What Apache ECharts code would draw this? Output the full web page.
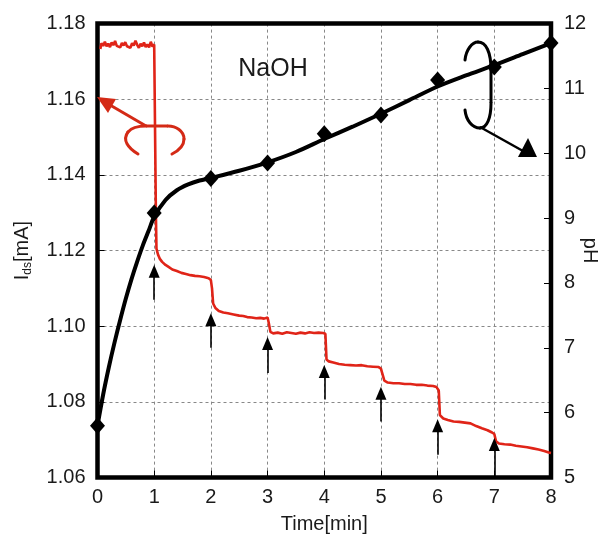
<!DOCTYPE html>
<html>
<head>
<meta charset="utf-8">
<script src="https://cdn.jsdelivr.net/npm/echarts@6/dist/echarts.min.js"></script>
<style>
html,body{margin:0;padding:0;background:#fff;}
#chart{width:608px;height:538px;}
</style>
</head>
<body>
<div id="chart"></div>
<script>
// ---- data ----
var idsTime = [0.05,0.07,0.10,0.13,0.16,0.19,0.22,0.25,0.28,0.31,0.34,0.37,0.40,0.43,0.46,0.49,0.52,0.55,0.58,0.61,0.64,0.67,0.70,0.73,0.76,0.79,0.82,0.85,0.88,0.91,0.94,0.97,1.00,1.02,
  1.03,1.04,1.07,1.10,1.14,1.20,1.26,1.32,1.40,1.48,1.56,1.64,1.72,1.80,1.88,1.96,2.00,
  2.02,2.04,2.08,2.14,2.22,2.30,2.40,2.50,2.57,2.64,2.72,2.80,2.87,2.94,3.00,
  3.02,3.05,3.10,3.18,3.26,3.34,3.42,3.50,3.58,3.66,3.74,3.82,3.90,3.98,4.02,
  4.04,4.08,4.16,4.26,4.36,4.46,4.56,4.66,4.76,4.86,4.96,5.00,
  5.03,5.06,5.12,5.22,5.32,5.42,5.52,5.62,5.72,5.82,5.92,5.98,
  6.02,6.04,6.10,6.18,6.28,6.38,6.48,6.58,6.68,6.78,6.88,6.96,7.00,
  7.03,7.08,7.18,7.28,7.38,7.48,7.58,7.68,7.78,7.88,7.96,8.00];
var idsValue = [1.1733,1.1748,1.1741,1.1752,1.1740,1.1747,1.1738,1.1750,1.1743,1.1754,1.1741,1.1746,1.1737,1.1749,1.1742,1.1751,1.1740,1.1745,1.1736,1.1748,1.1742,1.1755,1.1744,1.1736,1.1747,1.1740,1.1750,1.1738,1.1745,1.1737,1.1752,1.1739,1.1745,1.1740,
  1.1300,1.1205,1.1188,1.1178,1.1170,1.1162,1.1156,1.1150,1.1146,1.1141,1.1138,1.1135,1.1133,1.1132,1.1130,1.1127,1.1122,
  1.1100,1.1060,1.1048,1.1040,1.1036,1.1034,1.1031,1.1028,1.1027,1.1024,1.1023,1.1021,1.1022,1.1020,1.1023,
  1.1010,1.0985,1.0981,1.0983,1.0980,1.0984,1.0982,1.0980,1.0983,1.0981,1.0984,1.0982,1.0983,1.0982,1.0980,
  1.0912,1.0907,1.0904,1.0900,1.0898,1.0897,1.0896,1.0897,1.0894,1.0893,1.0892,1.0888,
  1.0872,1.0856,1.0851,1.0849,1.0849,1.0847,1.0847,1.0845,1.0845,1.0843,1.0842,1.0839,
  1.0830,1.0765,1.0756,1.0752,1.0748,1.0747,1.0745,1.0743,1.0736,1.0730,1.0725,1.0719,1.0715,
  1.0696,1.0690,1.0688,1.0687,1.0684,1.0682,1.0680,1.0677,1.0674,1.0670,1.0666,1.0665];

var phFitTime  = [0,0.1,0.2,0.3,0.4,0.5,0.6,0.7,0.8,0.9,1.0,1.2,1.4,1.6,1.8,2.0,2.5,3.0,3.5,4.0,4.5,5.0,5.5,6.0,6.5,7.0,7.5,8.0];
var phFitValue = [5.80,6.28,6.70,7.08,7.43,7.76,8.06,8.33,8.58,8.80,9.02,9.28,9.43,9.52,9.58,9.62,9.73,9.86,10.02,10.22,10.41,10.61,10.82,11.03,11.20,11.36,11.53,11.70];

var phTime  = [0,1,2,3,4,5,6,7,8];
var phValue = [5.80,9.08,9.61,9.85,10.30,10.59,11.13,11.33,11.70];

var arrowTime = [1,2,3,4,5,6,7];
var arrowTip  = [1.1145,1.1017,1.0954,1.0880,1.0823,1.0737,1.0687];
var arrowTail = [1.1070,1.0943,1.0876,1.0806,1.0748,1.0660,1.0603];

var xTicks = [0,1,2,3,4,5,6,7,8];
var idsTicks = [1.06,1.08,1.10,1.12,1.14,1.16,1.18];
var phTicks = [5,6,7,8,9,10,11,12];

// ---- chart ----
var FONT = 'Liberation Sans, Arial, Helvetica, sans-serif';
var TXT = '#1a1a1a';
var chart = echarts.init(document.getElementById('chart'), null, {renderer:'canvas'});

function zip(a,b){ return a.map(function(v,i){ return [v,b[i]]; }); }

var arrowLines = arrowTime.map(function(t,i){
  return [{coord:[t,arrowTail[i]], symbol:'none'},{coord:[t,arrowTip[i]], symbol:'triangle'}];
});

var option = {
  animation:false,
  backgroundColor:'#ffffff',
  grid:{left:97.5, right:57, top:23.6, bottom:60.5, outerBoundsMode:'none', containLabel:false, show:false},
  xAxis:{
    type:'value', min:xTicks[0], max:xTicks[xTicks.length-1], interval:1,
    name:'Time[min]', nameLocation:'middle', nameGap:37,
    nameTextStyle:{fontFamily:FONT, fontSize:20, color:TXT},
    axisLine:{show:false},
    axisTick:{show:true, inside:true, length:7, lineStyle:{color:'#000', width:1}},
    axisLabel:{fontFamily:FONT, fontSize:20, color:TXT, margin:10},
    splitLine:{show:true, lineStyle:{color:'#888', type:[3,3], width:1}}
  },
  yAxis:[{
    type:'value', min:idsTicks[0], max:idsTicks[idsTicks.length-1], interval:0.02,
    name:'I{sub|ds}[mA]', nameLocation:'middle', nameGap:64, nameRotate:90,
    nameTextStyle:{fontFamily:FONT, fontSize:20, color:TXT,
      rich:{sub:{fontFamily:FONT, fontSize:12, color:TXT, verticalAlign:'bottom', padding:[10,0,0,0]}}},
    axisLine:{show:false},
    axisTick:{show:true, inside:true, length:7, lineStyle:{color:'#000', width:1}},
    axisLabel:{fontFamily:FONT, fontSize:20, color:TXT, margin:12,
      formatter:function(v){ return v.toFixed(2); }},
    splitLine:{show:true, lineStyle:{color:'#888', type:[3,3], width:1}}
  },{
    type:'value', min:phTicks[0], max:phTicks[phTicks.length-1], interval:1, position:'right',
    axisLine:{show:false},
    axisTick:{show:true, inside:true, length:7, lineStyle:{color:'#000', width:1}},
    axisLabel:{fontFamily:FONT, fontSize:20, color:TXT, margin:13},
    splitLine:{show:false}
  }],
  series:[{
    name:'Ids', type:'line', yAxisIndex:0, data:zip(idsTime,idsValue),
    showSymbol:false, symbol:'none',
    lineStyle:{color:'#e02418', width:2.6}, z:3,
    markLine:{
      silent:true, symbol:['none','triangle'], symbolSize:[11,13],
      label:{show:false},
      lineStyle:{color:'#000', width:1.6, type:'solid'},
      data:arrowLines
    }
  },{
    name:'pHfit', type:'line', yAxisIndex:1, data:zip(phFitTime,phFitValue),
    showSymbol:false, symbol:'none', smooth:0.3,
    lineStyle:{color:'#000', width:4}, z:4
  },{
    name:'pH', type:'scatter', yAxisIndex:1, data:zip(phTime,phValue),
    symbol:'diamond', symbolSize:[15,17], itemStyle:{color:'#000', opacity:1}, z:5
  }]
};
chart.setOption(option);

// plot frame (drawn above the dashed grid lines, below the data)
var tl = chart.convertToPixel({xAxisIndex:0, yAxisIndex:0}, [xTicks[0], idsTicks[idsTicks.length-1]]);
var br = chart.convertToPixel({xAxisIndex:0, yAxisIndex:0}, [xTicks[xTicks.length-1], idsTicks[0]]);

// decorative annotations (drawn with graphic primitives)
function bz(p, color, w){
  return {type:'bezierCurve', shape:{x1:p[0],y1:p[1],cpx1:p[2],cpy1:p[3],cpx2:p[4],cpy2:p[5],x2:p[6],y2:p[7]},
          style:{fill:null, stroke:color, lineWidth:w, lineCap:'round'}, z:10};
}
var RED = '#d42a16';
var gfx = [
  {type:'rect', shape:{x:tl[0], y:tl[1], width:br[0]-tl[0], height:br[1]-tl[1]},
   style:{fill:null, stroke:'#000', lineWidth:4.5}, z:1},
  // right axis title
  {type:'text', x:br[0]+39, y:(tl[1]+br[1])/2, rotation:-Math.PI/2,
   style:{text:'pH', font:'20px '+FONT, fill:TXT, textAlign:'center', textVerticalAlign:'middle'}, z:10},
  // red annotation
  bz([138,154,128,148,122,140,128,132], RED, 3),
  bz([128,132,132,127,138,126,146,126], RED, 3),
  {type:'line', shape:{x1:146,y1:126,x2:168,y2:126}, style:{stroke:RED, lineWidth:3}, z:10},
  bz([168,126,176,126,184,131,184,139], RED, 3),
  bz([184,139,184,146,178,151,172,154], RED, 3),
  {type:'line', shape:{x1:146,y1:126,x2:110,y2:105}, style:{stroke:RED, lineWidth:3}, z:10},
  {type:'polygon', shape:{points:[[97,97],[116,99],[108,113]]}, style:{fill:RED}, z:10},
  // black annotation
  bz([465,60,466,50,472,42,478,42], '#000', 3),
  bz([478,42,486,42,491,52,491,70], '#000', 3),
  {type:'line', shape:{x1:491,y1:70,x2:491,y2:103}, style:{stroke:'#000', lineWidth:3}, z:10},
  bz([491,103,491,118,487,128,480,128], '#000', 3),
  bz([480,128,472,128,466,120,465,110], '#000', 3),
  {type:'line', shape:{x1:480,y1:127,x2:523,y2:151}, style:{stroke:'#000', lineWidth:2.5}, z:10},
  {type:'polygon', shape:{points:[[518,157],[528,138],[537,157]]}, style:{fill:'#000'}, z:10},
  // label
  {type:'text', x:273, y:69, style:{text:'NaOH', font:'25px '+FONT, fill:TXT, textAlign:'center', textVerticalAlign:'middle'}, z:10}
];
chart.setOption({graphic:gfx});
</script>
</body>
</html>
